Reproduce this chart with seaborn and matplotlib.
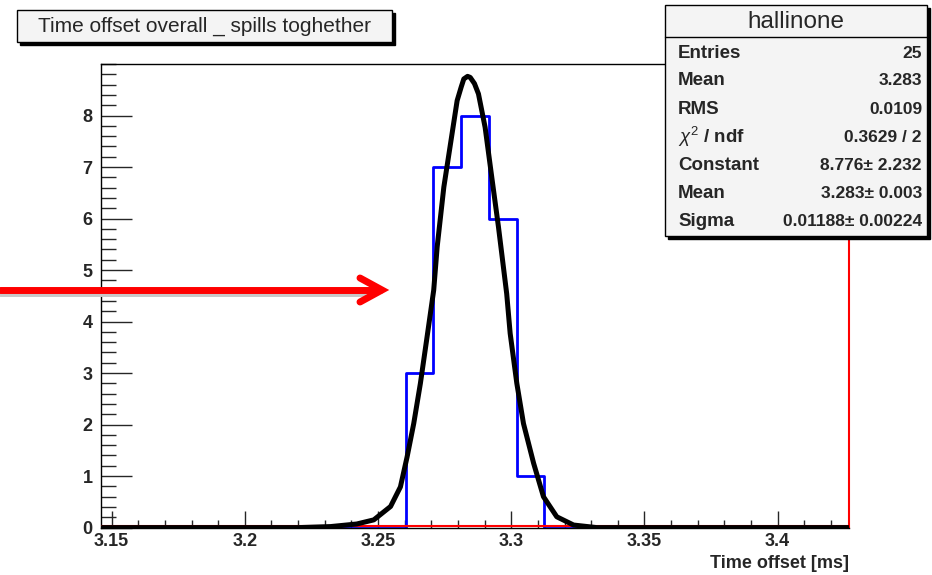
import numpy as np
import pandas as pd
import matplotlib.pyplot as plt
import seaborn as sns
from matplotlib.patches import Rectangle
from matplotlib.ticker import MultipleLocator

## Dados
# histograma: 27 bins de 3.146, largura 0.0104
bin_left = 3.146
bin_width = 0.0104
n_bins = 27
filled_centers = [3.2656, 3.2760, 3.2864, 3.2968, 3.3072]
filled_counts = [3, 7, 8, 6, 1]

# curva do ajuste gaussiano
fit_x = [3.1465, 3.2200, 3.2322, 3.2420, 3.2484, 3.2547, 3.2584, 3.2609, 3.2634,
         3.2659, 3.2684, 3.2709, 3.2722, 3.2747, 3.2772, 3.2797, 3.2812, 3.2822, 3.2836,
         3.2846, 3.2862, 3.2877, 3.2902, 3.2927, 3.2952, 3.2983, 3.2996, 3.3021, 3.3046,
         3.3084, 3.3121, 3.3171, 3.3234, 3.3321, 3.3450, 3.4266]
fit_y = [0.0, 0.0, 0.02, 0.07, 0.15, 0.41, 0.79, 1.37, 2.02,
         2.80, 3.70, 4.61, 5.45, 6.61, 7.45, 8.29, 8.55, 8.71, 8.76,
         8.74, 8.62, 8.42, 7.77, 6.80, 5.84, 4.54, 3.77, 2.80, 2.02,
         1.25, 0.60, 0.21, 0.05, 0.0, 0.0, 0.0]

stats_title = 'hallinone'
stats_labels = ['Entries', 'Mean', 'RMS', r'$\chi^2$ / ndf', 'Constant', 'Mean', 'Sigma']
stats_values = ['25', '3.283', '0.0109', '0.3629 / 2', '8.776\u00b1 2.232',
                '3.283\u00b1 0.003', '0.01188\u00b1 0.00224']

titulo = 'Time offset overall _ spills toghether'
xlabel = 'Time offset [ms]'

## Figura
sns.set_style('white')
plt.rcParams['font.family'] = ['Liberation Sans', 'DejaVu Sans']
plt.rcParams['mathtext.fontset'] = 'custom'
plt.rcParams['mathtext.it'] = 'Liberation Sans:italic'
plt.rcParams['mathtext.rm'] = 'Liberation Sans'

W, H = 932, 575
fig = plt.figure(figsize=(W / 100, H / 100), dpi=100)
ax = fig.add_axes([101 / W, 1 - 527.6 / H, (849 - 101) / W, (527.6 - 64) / H])

xmin = bin_left
xmax = bin_left + n_bins * bin_width

# histograma (azul)
hist_df = pd.DataFrame({'x': filled_centers, 'w': filled_counts})
sns.histplot(data=hist_df, x='x', weights='w', binwidth=bin_width, binrange=(xmin, xmax),
             element='step', fill=False, color='#0000ff', linewidth=2, ax=ax)

# linha vermelha na base
ax.plot([xmin, xmax], [0.03, 0.03], color='#ff0000', lw=1.5, zorder=3)

# ajuste (preto)
fit_df = pd.DataFrame({'x': fit_x, 'y': fit_y})
sns.lineplot(data=fit_df, x='x', y='y', color='black', linewidth=3.6,
             estimator=None, sort=False, ax=ax, zorder=4)

ax.set_xlim(xmin, xmax)
ax.set_ylim(0, 9.0)
ax.set_xlabel('')
ax.set_ylabel('')

ax.xaxis.set_major_locator(MultipleLocator(0.05))
ax.xaxis.set_minor_locator(MultipleLocator(0.01))
ax.yaxis.set_major_locator(MultipleLocator(1))
ax.yaxis.set_minor_locator(MultipleLocator(0.2))
ax.tick_params(axis='x', which='major', direction='in', length=12, width=1,
               top=False, bottom=True, labelsize=13, pad=4)
ax.tick_params(axis='x', which='minor', direction='in', length=6, width=1,
               top=False, bottom=True)
ax.tick_params(axis='y', which='major', direction='in', length=22, width=1,
               left=True, right=False, labelsize=13, pad=6)
ax.tick_params(axis='y', which='minor', direction='in', length=11, width=1,
               left=True, right=False)
ax.set_xticks([3.15, 3.2, 3.25, 3.3, 3.35, 3.4])
ax.set_xticklabels(['3.15', '3.2', '3.25', '3.3', '3.35', '3.4'], fontweight='bold')
ax.set_yticks(range(0, 9))
ax.set_yticklabels([str(i) for i in range(0, 9)], fontweight='bold')

for s in ['top', 'left', 'bottom']:
    ax.spines[s].set_color('black')
    ax.spines[s].set_linewidth(1)
ax.spines['right'].set_color('#ff0000')
ax.spines['right'].set_linewidth(1.5)

fig.text(849 / W, 1 - 563 / H, xlabel, ha='right', va='center',
         fontsize=13, fontweight='bold')

# caixa do título
def caixa(x0, y0, x1, y1):
    fig.add_artist(Rectangle((x0 / W + 3 / W, 1 - y1 / H - 3 / H), (x1 - x0) / W, (y1 - y0) / H,
                             transform=fig.transFigure, facecolor='black', edgecolor='black', zorder=10))
    fig.add_artist(Rectangle((x0 / W, 1 - y1 / H), (x1 - x0) / W, (y1 - y0) / H,
                             transform=fig.transFigure, facecolor='#f4f4f4', edgecolor='black',
                             lw=1, zorder=11))

caixa(17, 10, 392, 42)
fig.text(205 / W, 1 - 26 / H, titulo, ha='center', va='center', fontsize=15, zorder=12)

# caixa de estatísticas
caixa(665, 5, 927, 236)
fig.add_artist(plt.Line2D([665 / W, 927 / W], [1 - 37 / H, 1 - 37 / H],
                          transform=fig.transFigure, color='black', lw=1, zorder=12))
fig.text(796 / W, 1 - 22 / H, stats_title, ha='center', va='center', fontsize=17.5, zorder=12)
for i, (lab, val) in enumerate(zip(stats_labels, stats_values)):
    y = 1 - (53 + 28 * i) / H
    fig.text(678 / W, y, lab, ha='left', va='center', fontsize=13.5,
             fontweight='bold', zorder=12)
    fig.text(922 / W, y, val, ha='right', va='center', fontsize=12.5,
             fontweight='bold', zorder=12)

# seta vermelha
fig.add_artist(plt.Line2D([0, 372 / W], [1 - 293 / H, 1 - 293 / H], transform=fig.transFigure,
                          color='#c8c8c8', lw=5, zorder=12))
fig.add_artist(plt.Line2D([0, 380 / W], [1 - 290 / H, 1 - 290 / H], transform=fig.transFigure,
                          color='#ff0000', lw=5, zorder=13))
fig.add_artist(plt.Line2D([360 / W, 382 / W, 360 / W], [1 - 278 / H, 1 - 290 / H, 1 - 302 / H],
                          transform=fig.transFigure, color='#ff0000', lw=5,
                          solid_joinstyle='miter', zorder=13))

fig.savefig('out.png', dpi=100)
